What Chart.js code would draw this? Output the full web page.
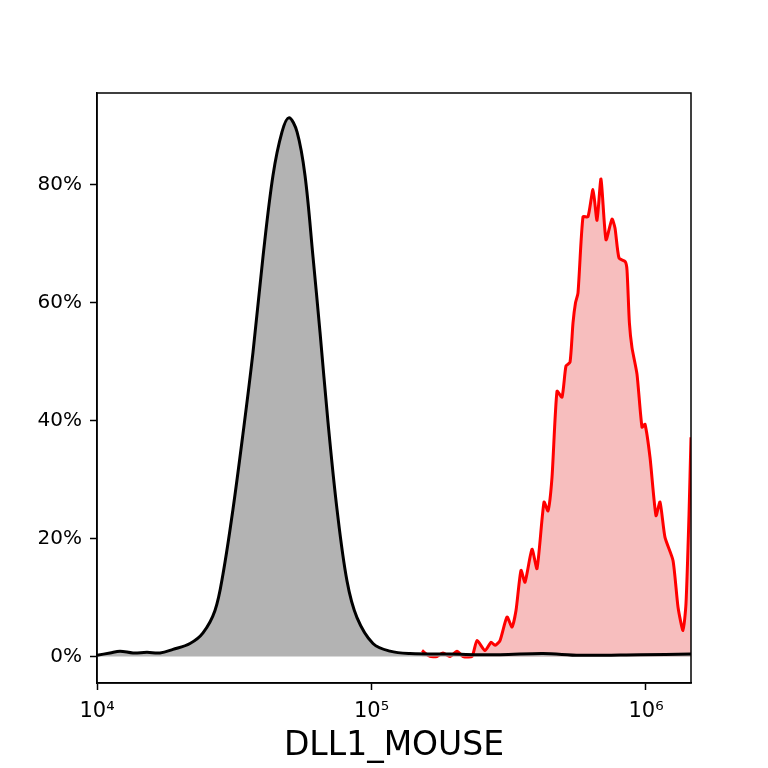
<!DOCTYPE html>
<html>
<head>
<meta charset="utf-8">
<script src="https://cdn.jsdelivr.net/npm/chart.js@4.4.1/dist/chart.umd.min.js"></script>
<style>
  html, body { margin: 0; padding: 0; background: #fff; }
  canvas { display: block; }
</style>
</head>
<body>
<canvas id="histCanvas" width="768" height="768"></canvas>
<script>
// control (gray) histogram, x = intensity, y = % of max
const grayX = [10000, 11152, 12129, 13527, 15210, 16963, 18917, 21820, 24333, 26904,
  28778, 31293, 34030, 37005, 40241, 43762, 47207, 50058, 53547, 57253,
  61222, 64940, 69440, 74860, 81430, 88547, 101265, 116800, 138100, 193200,
  293900, 421600, 574900, 951000, 1458600];
const grayY = [0.2, 0.6, 0.9, 0.6, 0.7, 0.6, 1.2, 2.2, 4.0, 7.8,
  14, 25, 37.8, 51.6, 67.8, 81.6, 89, 91.4, 89, 81.6,
  67.8, 55, 39.7, 25, 12.8, 6.6, 2.2, 0.9, 0.5, 0.4,
  0.3, 0.5, 0.2, 0.3, 0.4];

// stained (red) histogram
const redX = [152750, 163350, 173230, 182170, 193180, 204870, 215440, 232340, 242290, 259110,
  272480, 281780, 293850, 311620, 324970, 336060, 350460, 362410, 384330, 400810,
  425060, 439560, 454550, 474010, 494320, 511180, 528620, 542090, 553600, 565320,
  589530, 614780, 641110, 662980, 685610, 714970, 751870, 771040, 797340, 840000,
  852690, 870000, 889140, 927210, 966940, 991650, 1034100, 1087500, 1124600, 1172800,
  1254200, 1307900, 1363900, 1398700, 1434300, 1458600];
const redY = [1.0, 0, 0, 0.6, 0, 0.9, 0, 0, 2.7, 1.0,
  2.4, 1.9, 2.7, 6.7, 5.0, 7.8, 14.6, 12.6, 18.2, 14.9,
  26.2, 24.7, 30.4, 45, 44, 49.3, 49.9, 56.6, 60, 61.7,
  74.6, 74.6, 79.2, 74, 81, 70.7, 74.2, 72.7, 67.6, 67,
  65.6, 56.6, 52.4, 47.9, 38.9, 39.4, 33.8, 23.9, 26.2, 20.2,
  16.3, 8.4, 4.4, 9, 24, 37.2];

const xTickValues = [1e4, 1e5, 1e6];
const xTickLabels = ['10⁴', '10⁵', '10⁶'];
const yTickValues = [0, 20, 40, 60, 80];
const xTitle = 'DLL1_MOUSE';

const FONT = 'DejaVu Sans';

function toPoints(xs, ys) {
  return xs.map((x, i) => ({ x: x, y: ys[i] }));
}

// box around plot area (matplotlib style spines)
const frame = {
  id: 'frame',
  afterDraw(chart) {
    const a = chart.chartArea;
    const ctx = chart.ctx;
    ctx.save();
    ctx.strokeStyle = '#000';
    ctx.lineWidth = 1.5;
    ctx.strokeRect(a.left, a.top, a.right - a.left, a.bottom - a.top);
    ctx.restore();
  }
};

new Chart(document.getElementById('histCanvas').getContext('2d'), {
  type: 'line',
  data: {
    datasets: [
      {
        label: 'control',
        data: toPoints(grayX, grayY),
        borderColor: '#000',
        backgroundColor: 'rgb(179,179,179)',
        borderWidth: 3,
        fill: 'origin',
        tension: 0.35,
        pointRadius: 0
      },
      {
        label: 'DLL1',
        data: toPoints(redX, redY),
        borderColor: '#ff0000',
        backgroundColor: 'rgba(230,40,40,0.3)',
        borderWidth: 3,
        fill: 'origin',
        tension: 0.2,
        pointRadius: 0
      }
    ]
  },
  options: {
    responsive: false,
    devicePixelRatio: 1,
    animation: false,
    layout: { padding: { top: 93, right: 77, left: 0, bottom: 0 } },
    plugins: {
      legend: { display: false },
      tooltip: { enabled: false }
    },
    scales: {
      x: {
        type: 'logarithmic',
        min: 10000,
        max: 1458600,
        afterBuildTicks: scale => {
          scale.ticks = xTickValues.map(v => ({ value: v }));
        },
        afterFit: scale => { scale.height = 85; },
        grid: { drawOnChartArea: false, drawTicks: true, tickLength: 7, color: '#000', tickWidth: 1.5 },
        border: { display: true, color: '#000', width: 1.5 },
        ticks: {
          color: '#000',
          font: { family: FONT, size: 21 },
          padding: 9,
          maxRotation: 0,
          autoSkip: false,
          callback: v => xTickLabels[xTickValues.indexOf(v)]
        },
        title: {
          display: true,
          text: xTitle,
          color: '#000',
          font: { family: FONT, size: 33 },
          padding: { top: 0, bottom: 2 }
        }
      },
      y: {
        min: -4.5,
        max: 95.6,
        afterBuildTicks: scale => {
          scale.ticks = yTickValues.map(v => ({ value: v }));
        },
        afterFit: scale => { scale.width = 97; },
        grid: { drawOnChartArea: false, drawTicks: true, tickLength: 7, color: '#000', tickWidth: 1.5 },
        border: { display: true, color: '#000', width: 1.5 },
        ticks: {
          color: '#000',
          font: { family: FONT, size: 20 },
          padding: 8,
          callback: v => v + '%'
        }
      }
    }
  },
  plugins: [frame]
});
</script>
</body>
</html>
